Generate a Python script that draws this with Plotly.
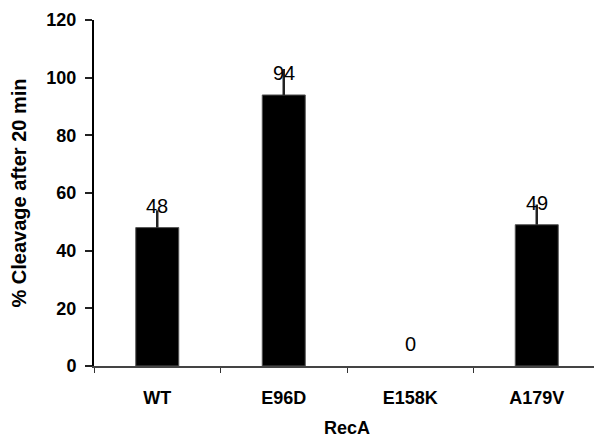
import plotly.graph_objects as go

categories = ["WT", "E96D", "E158K", "A179V"]
values = [48, 94, 0, 49]
errors = [6, 9, 0, 7]
labels = ["48", "94", "0", "49"]
y_ticks = [0, 20, 40, 60, 80, 100, 120]

fig = go.Figure()
fig.add_trace(go.Bar(
    x=categories, y=values,
    marker=dict(color="black", line=dict(color="#555555", width=[1 if v > 0 else 0 for v in values])),
    error_y=dict(type="data", symmetric=False, array=errors, arrayminus=[0]*4,
                 color="#222222", thickness=2.5, width=0),
    width=0.34,
))

for c, v, t in zip(categories, values, labels):
    fig.add_annotation(x=c, y=v, text=t, showarrow=False, yanchor="middle",
                       yshift=22, font=dict(family="Liberation Sans, Arial", size=20, color="black"))

fig.update_layout(
    width=602, height=439,
    margin=dict(l=86, r=10, t=12, b=81, autoexpand=False),
    paper_bgcolor="white", plot_bgcolor="white",
    showlegend=False,
    font=dict(family="Liberation Sans, Arial", color="black"),
)
fig.update_xaxes(
    type="category", tickson="boundaries", ticks="outside", ticklen=5,
    tickcolor="#333333", showline=True, linecolor="#444444", linewidth=2,
    tickfont=dict(size=18, weight="bold"), ticklabelstandoff=14,
    title=dict(text="<b>RecA</b>", font=dict(size=18), standoff=15),
    showgrid=False, automargin=False,
)
fig.update_yaxes(
    range=[0, 120], tickvals=y_ticks, ticks="outside", ticklen=7, tickwidth=2,
    tickcolor="#222222", showline=True, linecolor="black", linewidth=2,
    tickfont=dict(size=18, weight="bold"), ticklabelstandoff=5,
    title=dict(text="<b>% Cleavage after 20 min</b>", font=dict(size=20), standoff=14),
    showgrid=False, zeroline=False, automargin=False,
)

fig.write_html("out.html")
